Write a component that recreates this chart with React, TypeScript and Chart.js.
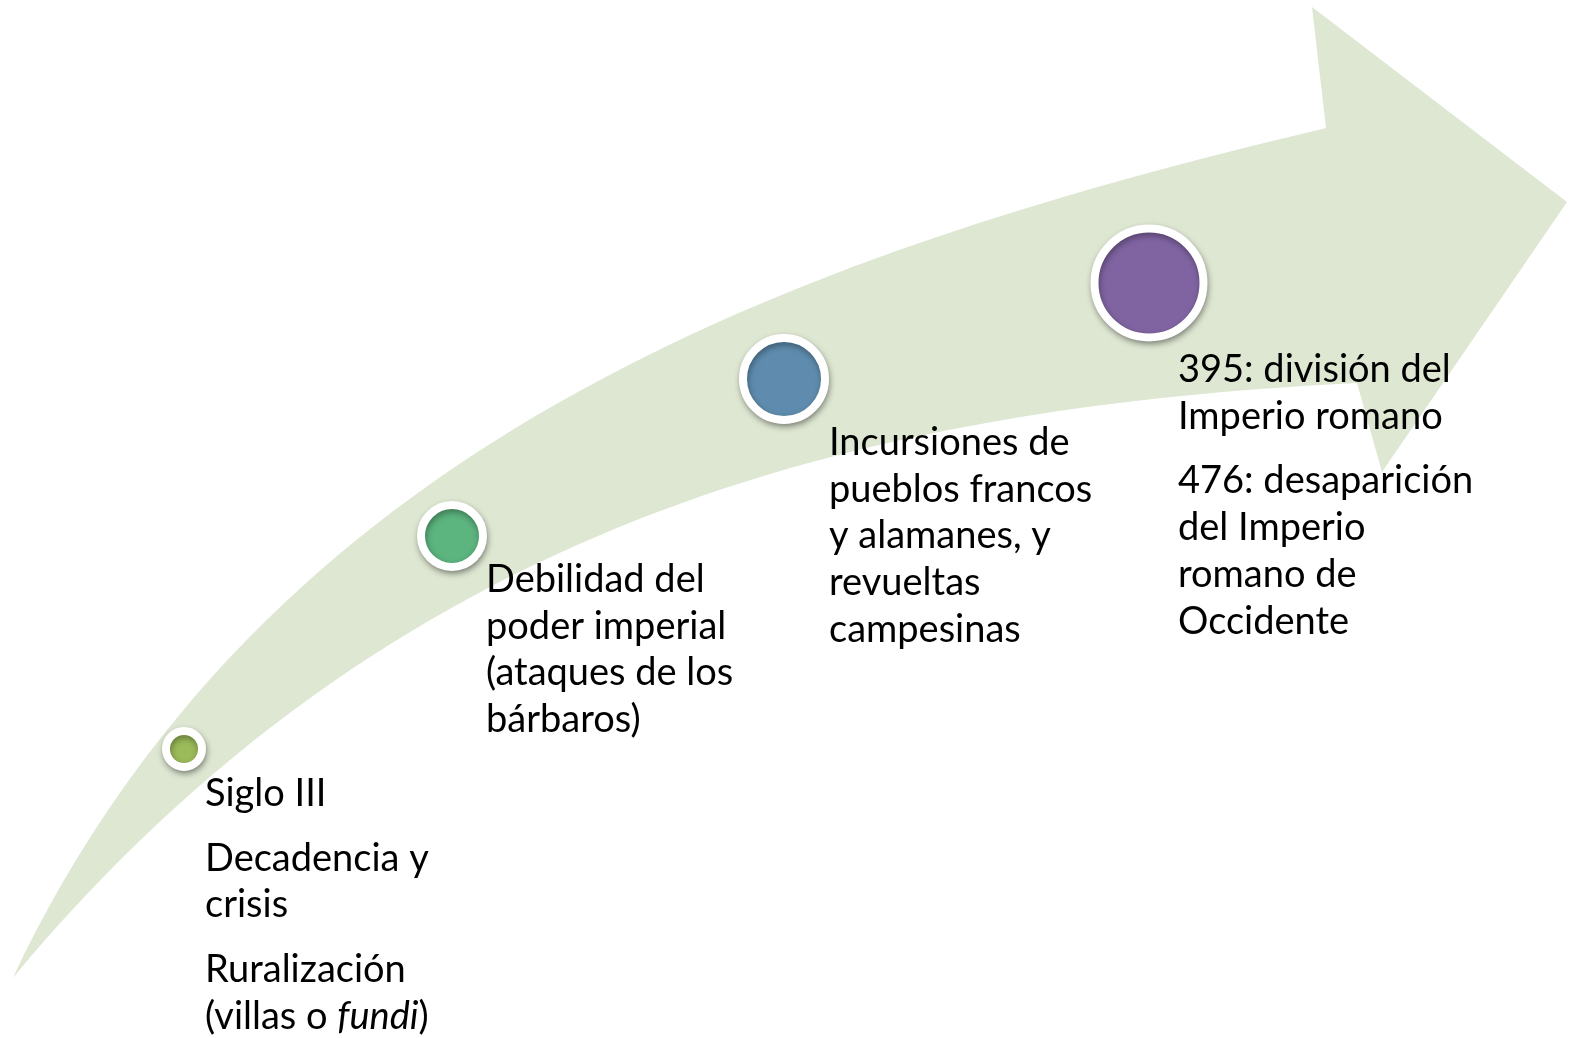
import React, { useEffect, useRef } from 'react';
import { Chart, registerables } from 'chart.js';

Chart.register(...registerables);

const CANVAS_W = 1576;
const CANVAS_H = 1038;

// Stage markers (chart units: x 0..1576, y 0..1038 top-down)
const stageNames = ['Siglo III', 'Debilidad del poder imperial', 'Incursiones', 'División y desaparición'];
const markerX = [184, 452, 784, 1149];
const markerY = [749, 536, 379, 283];
const markerRadius = [18, 31, 41, 54.5];
const markerColors = ['#9BBB59', '#5CB47E', '#5F8CAE', '#8064A2'];

// Stage texts: paragraphs -> lines ( _x_ = italic )
const stageParagraphs: string[][][] = [
  [['Siglo III'], ['Decadencia y', 'crisis'], ['Ruralización', '(villas o _fundi_)']],
  [['Debilidad del', 'poder imperial', '(ataques de los', 'bárbaros)']],
  [['Incursiones de', 'pueblos francos', 'y alamanes, y', 'revueltas', 'campesinas']],
  [['395: división del', 'Imperio romano'], ['476: desaparición', 'del Imperio', 'romano de', 'Occidente']],
];
const textX = [205, 486, 829, 1178];
const textFirstBaseline = [806, 592, 455, 382];

// Arrow outline (chart units)
const arrowTail = [13, 978];
const arrowUpperCtrl = [[263, 450], [776, 258]];
const arrowNeckTop = [1326, 128];
const arrowHead = [[1312, 7], [1567, 202], [1382, 472]];
const arrowNeckBottom = [1357, 383];
const arrowLowerCtrl = [[857, 408], [393, 522]];

const ARROW_COLOR = '#DEE7D2';
const FONT_FAMILY = 'Lato, "Open Sans", sans-serif';
const FONT_SIZE = 38;
const LINE_HEIGHT = 46.7;
const PARA_GAP = 18;

const arrowPlugin = {
  id: 'curvedArrow',
  beforeDatasetsDraw(chart: any) {
    const { ctx, scales } = chart;
    const px = (p: number[]) => [scales.x.getPixelForValue(p[0]), scales.y.getPixelForValue(p[1])];
    const t = px(arrowTail);
    const u1 = px(arrowUpperCtrl[0]);
    const u2 = px(arrowUpperCtrl[1]);
    const nt = px(arrowNeckTop);
    const nb = px(arrowNeckBottom);
    const l1 = px(arrowLowerCtrl[0]);
    const l2 = px(arrowLowerCtrl[1]);
    ctx.save();
    ctx.beginPath();
    ctx.moveTo(t[0], t[1]);
    ctx.bezierCurveTo(u1[0], u1[1], u2[0], u2[1], nt[0], nt[1]);
    arrowHead.forEach((p) => {
      const q = px(p);
      ctx.lineTo(q[0], q[1]);
    });
    ctx.lineTo(nb[0], nb[1]);
    ctx.bezierCurveTo(l1[0], l1[1], l2[0], l2[1], t[0], t[1]);
    ctx.closePath();
    ctx.fillStyle = ARROW_COLOR;
    ctx.fill();
    ctx.restore();
  },
  beforeDatasetDraw(chart: any) {
    const ctx = chart.ctx;
    ctx.save();
    ctx.shadowColor = 'rgba(0,0,0,0.35)';
    ctx.shadowBlur = 6;
    ctx.shadowOffsetX = 1;
    ctx.shadowOffsetY = 3;
  },
  afterDatasetDraw(chart: any) {
    chart.ctx.restore();
  },
  afterDatasetsDraw(chart: any) {
    const { ctx, scales } = chart;
    ctx.save();
    ctx.fillStyle = '#000000';
    ctx.textBaseline = 'alphabetic';
    ctx.textAlign = 'left';
    stageParagraphs.forEach((paras, i) => {
      const x0 = scales.x.getPixelForValue(textX[i]);
      let yVal = textFirstBaseline[i];
      paras.forEach((lines, pi) => {
        if (pi > 0) yVal += PARA_GAP;
        lines.forEach((line, li) => {
          if (pi > 0 || li > 0) yVal += LINE_HEIGHT;
          const y = scales.y.getPixelForValue(yVal);
          let x = x0;
          line.split('_').forEach((seg, si) => {
            if (!seg) return;
            ctx.font = `${si % 2 === 1 ? 'italic ' : ''}${FONT_SIZE}px ${FONT_FAMILY}`;
            ctx.fillText(seg, x, y);
            x += ctx.measureText(seg).width;
          });
        });
      });
    });
    ctx.restore();
  },
};

export default function App() {
  const canvasRef = useRef<HTMLCanvasElement | null>(null);

  useEffect(() => {
    if (!canvasRef.current) return;
    const chart = new Chart(canvasRef.current, {
      type: 'scatter',
      data: {
        labels: stageNames,
        datasets: [
          {
            label: 'Etapas',
            data: markerX.map((x, i) => ({ x, y: markerY[i] })),
            pointRadius: markerRadius,
            pointHoverRadius: markerRadius,
            pointBackgroundColor: markerColors,
            pointBorderColor: '#FFFFFF',
            pointBorderWidth: 8,
            pointHoverBorderWidth: 8,
            clip: false,
          },
        ],
      },
      options: {
        responsive: false,
        animation: false,
        events: [],
        layout: { padding: 0, autoPadding: false },
        plugins: { legend: { display: false }, tooltip: { enabled: false }, title: { display: false } },
        scales: {
          x: { type: 'linear', min: 0, max: CANVAS_W, display: false },
          y: { type: 'linear', min: 0, max: CANVAS_H, reverse: true, display: false },
        },
      },
      plugins: [arrowPlugin],
    });
    return () => chart.destroy();
  }, []);

  return (
    <div style={{ position: 'fixed', left: 0, top: 0, width: CANVAS_W, height: CANVAS_H, background: '#FFFFFF' }}>
      <canvas ref={canvasRef} width={CANVAS_W} height={CANVAS_H} style={{ display: 'block' }} />
    </div>
  );
}
